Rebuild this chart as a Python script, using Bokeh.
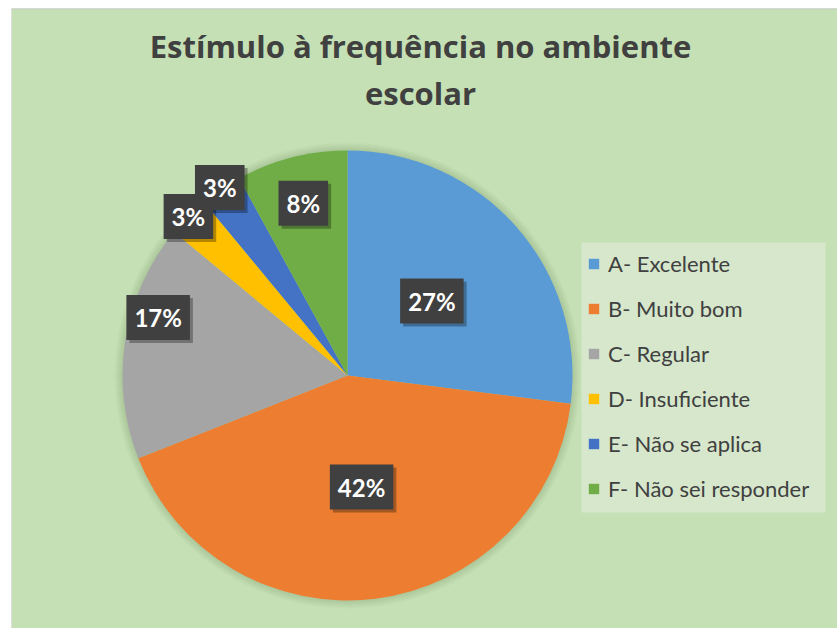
import math
from bokeh.plotting import figure
from bokeh.models import Range1d, Legend, LegendItem, Label, ColumnDataSource, Span
from bokeh.embed import file_html
from bokeh.resources import INLINE
from bokeh.core.properties import value

# ---- data ----
categories = ["A- Excelente", "B- Muito bom", "C- Regular", "D- Insuficiente",
              "E- Não se aplica", "F- Não sei responder"]
percentages = [27, 42, 17, 3, 3, 8]
colors = ["#5b9bd5", "#ed7d31", "#a5a5a5", "#ffc000", "#4472c4", "#70ad47"]
title_lines = ["Estímulo à frequência no ambiente", "escolar"]

# ---- layout ----
W, H = 837, 628
ML, MT = 11, 8                     # white strip left / top (as in the screenshot)
FW, FH = W - ML, H - MT            # frame size (1 data unit = 1 px)
CX, CY, R = 336, FH - 367, 225
LABEL_R = [0.5, 0.5, 0.88, 1.0, 1.01, 0.79]   # label radius (fraction of R)
LABEL_DA = [0, 0, 8, 0, 0, 0]                 # label angle nudge (deg)
BG = "#c5e0b4"
FONT = "Lato"

total = float(sum(percentages))
starts, ends, lx, ly, lbl = [], [], [], [], []
acc = 0.0
for i, v in enumerate(percentages):
    starts.append(math.pi / 2 - 2 * math.pi * acc / total)
    mid = 2 * math.pi * (acc + v / 2.0) / total + math.radians(LABEL_DA[i])
    acc += v
    ends.append(math.pi / 2 - 2 * math.pi * acc / total)
    r = R * LABEL_R[i]
    lx.append(CX + r * math.sin(mid))
    ly.append(CY + r * math.cos(mid))
    lbl.append(f"{v}%")

src = ColumnDataSource(dict(cat=categories, start=starts, end=ends, color=colors))
lsrc = ColumnDataSource(dict(x=lx, y=ly, text=lbl))

p = figure(width=W, height=H, x_range=Range1d(0, FW), y_range=Range1d(0, FH),
           x_axis_type=None, y_axis_type=None, output_backend="svg",
           toolbar_location=None, min_border=0, min_border_left=ML,
           min_border_top=MT, background_fill_color=BG,
           border_fill_color="white", outline_line_color=None)

# chart border (top and left edges visible in the screenshot)
p.add_layout(Span(location=FH, dimension="width", line_color="#c8c8c8", line_width=2))
p.add_layout(Span(location=0, dimension="height", line_color="#d4d4d4", line_width=1))

# soft halo around the pie
for k in range(1, 9):
    p.circle(x=CX, y=CY, radius=R + k, fill_color="#2f4f1f", fill_alpha=0.018,
             line_color=None)

wr = p.wedge(x=CX, y=CY, radius=R, start_angle="start", end_angle="end",
             direction="clock", fill_color="color", line_color=None, source=src)

PAD = dict(left=8, right=8, top=8, bottom=8)
# label shadows
p.text(x="x", y="y", text="text", source=lsrc, text_alpha=0,
       text_font=value(FONT), text_font_style="bold", text_font_size="24px",
       text_align="center", text_baseline="middle",
       background_fill_color="black", background_fill_alpha=0.3,
       padding=PAD, x_offset=3, y_offset=3)
# labels
p.text(x="x", y="y", text="text", source=lsrc, text_color="white",
       text_font=value(FONT), text_font_style="bold", text_font_size="24px",
       text_align="center", text_baseline="middle",
       background_fill_color="#404040", padding=PAD)

for k, t in enumerate(title_lines):
    p.add_layout(Label(x=409, y=FH - 37 - 47 * k, text=t, text_align="center",
                       text_baseline="alphabetic", text_font="Open Sans",
                       text_font_style="bold", text_font_size="31px",
                       text_color="#404040"))

# legend box (page x 581-825, y 242-512)
p.quad(left=570, right=814, top=FH - 234, bottom=FH - 504,
       fill_color="#d6e7cc", line_color=None)

legend = Legend(items=[LegendItem(label=c, renderers=[wr], index=i)
                       for i, c in enumerate(categories)],
                location=(576, 126), orientation="vertical",
                background_fill_alpha=0, border_line_color=None,
                glyph_width=13, glyph_height=13,
                label_height=27, spacing=18, padding=10, margin=0,
                label_standoff=8, label_text_font=FONT,
                label_text_font_size="22px", label_text_color="#404040")
p.add_layout(legend)

open("out.html", "w").write(file_html(p, INLINE))
